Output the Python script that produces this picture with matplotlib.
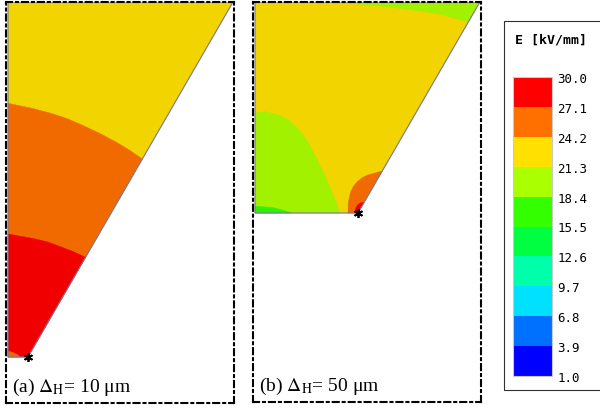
import numpy as np
import matplotlib as mpl
import matplotlib.pyplot as plt
from matplotlib.colors import ListedColormap, BoundaryNorm, to_rgb
from matplotlib.patches import Polygon, Rectangle

# field levels in kV/mm and the colour of each band (legend)
levels = [1.0, 3.9, 6.8, 9.7, 12.6, 15.5, 18.4, 21.3, 24.2, 27.1, 30.0]
band_colors = ['#0000ff', '#0070ff', '#00e0ff', '#00ffaa', '#00ff40',
               '#33ff00', '#aaff00', '#ffe000', '#ff7000', '#ff0000']

# geometry, coordinates relative to the triple point (star)
a_outline_x = [0, 205, -20, -20]
a_outline_y = [0, 355, 355, 0]
b_outline_x = [0, 121.9, -103, -103]
b_outline_y = [0, 211, 211, 0]

# (a) Delta_H = 10 um : field regions (value, x, y), drawn in order
a_regions = [
	(22.5, a_outline_x, a_outline_y),
	(25.5, [-20, 5, 22, 39, 55, 72, 88, 102, 114.3, 0, -20],
	       [253.7, 248.5, 244, 238.5, 231.5, 223.5, 215, 206.5, 198, 0, 0]),
	(28.5, [-20, 5.3, 20, 32, 45, 57.6, 0, -20],
	       [123, 118.5, 115, 110.5, 105.5, 99.7, 0, 0]),
	(25.5, [-20, -15, -10, -8, -20],
	       [6, 4.5, 2, 0, 0]),
]

# (b) Delta_H = 50 um
b_regions = [
	(22.5, b_outline_x, b_outline_y),
	(20.0, [-41, 0, 40, 82, 110.3, 121.9],
	       [211, 209, 205, 199, 191, 211]),
	(20.0, [-103, -93, -79.7, -70, -63, -55, -49.7, -41.3, -33, -24.7, -20, -18, -103],
	       [100, 101.3, 98, 93.5, 87.3, 78, 70.7, 54, 37.3, 17.3, 6, 0, 0]),
	(17.0, [-103, -86.3, -73, -66.3, -103],
	       [6.7, 5.7, 2.3, 0, 0]),
	(25.5, [-10, -9.8, -7.5, -4.7, -1, 3.7, 9, 15.3, 24.2, 0],
	       [0, 10, 21, 26.5, 31, 35, 37.8, 39.5, 42, 0]),
	(28.5, [-3, -2.5, -0.5, 2, 6.2, 0],
	       [0, 4.5, 8, 10, 10.7, 0]),
]

labels = [r"(a) $\Delta_{\rm H}$= 10 μm", r"(b) $\Delta_{\rm H}$= 50 μm"]

plt.rcParams['mathtext.fontset'] = 'stix'

cmap = ListedColormap(band_colors)
norm = BoundaryNorm(levels, cmap.N)
# the plot shades are a little darker than the legend swatches
cmap_plot = ListedColormap([tuple(0.945 * np.array(to_rgb(c))) for c in band_colors])

W, H = 600, 410
fig = plt.figure(figsize=(6, 4.1), dpi=100)

def frac(x0, y0, x1, y1):
	return [x0 / W, (H - y1) / H, (x1 - x0) / W, (y1 - y0) / H]

def draw_panel(rect, xlim, ylim, regions, ox, oy, label):
	ax = fig.add_axes(rect)
	ax.set_xlim(*xlim)
	ax.set_ylim(*ylim)
	ax.set_xticks([])
	ax.set_yticks([])
	for s in ax.spines.values():
		s.set_linestyle((0, (2.9, 1.9, 0.95, 1.9)))
		s.set_linewidth(1.5)
		s.set_color('black')
		s.set_zorder(5)
	for val, xs, ys in regions:
		c = cmap_plot(norm(val))
		ax.add_patch(Polygon(np.column_stack([xs, ys]), closed=True,
		                     facecolor=c, edgecolor=c, lw=0.3))
	ax.add_patch(Polygon(np.column_stack([ox, oy]), closed=True, fill=False,
	                     edgecolor='#7878a0', lw=0.8, zorder=3))
	ax.plot([0], [0], marker=(6, 2, 0), ms=6.5, mew=1.3, color='black',
	        zorder=6, clip_on=False)
	ax.text(0.026, 0.03, label, transform=ax.transAxes, fontsize=14,
	        family='Liberation Serif', va='baseline', ha='left')
	return ax

draw_panel(frac(6, 3, 234, 404), (-22, 206), (-46, 355),
           a_regions, a_outline_x, a_outline_y, labels[0])
draw_panel(frac(253, 3, 481, 403), (-105, 123), (-189, 211),
           b_regions, b_outline_x, b_outline_y, labels[1])

# legend box
box = Rectangle((504 / W, (H - 391) / H), 110 / W, 369 / H,
                transform=fig.transFigure, facecolor='white',
                edgecolor='#303030', lw=0.8, zorder=-1)
fig.patches.append(box)
fig.text(551 / W, 1 - 40 / H, "E [kV/mm]", ha='center', va='center',
         family='DejaVu Sans Mono', fontsize=9.5, fontweight='bold')

cax = fig.add_axes(frac(513, 78, 552, 377))
cax.set_zorder(3)
sm = mpl.cm.ScalarMappable(norm=norm, cmap=cmap)
cb = fig.colorbar(sm, cax=cax, ticks=levels, spacing='uniform')
cb.outline.set_edgecolor('#c8c8c8')
cb.outline.set_linewidth(0.8)
cax.tick_params(length=0, pad=4)
cax.set_yticklabels(["%.1f" % v for v in levels], family='DejaVu Sans Mono',
                    fontsize=9)

fig.savefig("out.png", dpi=100)
